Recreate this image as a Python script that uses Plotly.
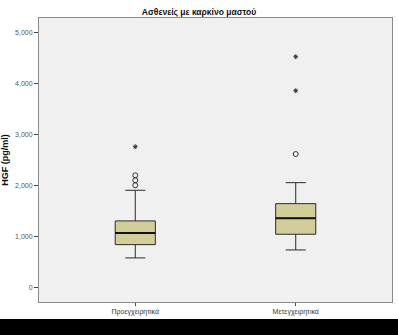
import plotly.graph_objects as go

# HGF levels (pg/ml) before and after surgery
groups = ["Προεγχειρητικά", "Μετεγχειρητικά"]
q1 = [848, 1051]
median = [1078, 1364]
q3 = [1312, 1650]
lower_whisker = [588, 744]
upper_whisker = [1912, 2061]
# mild outliers (circles) and extreme outliers (stars)
outliers_mild = [[2010, 2108, 2205], [2622]]
outliers_extreme = [[2765], [3861, 4526]]

yticks = [0, 1000, 2000, 3000, 4000, 5000]

box_fill = "#d3cd9a"
line_col = "#2b2b2b"
box_w = 0.25

fig = go.Figure()
for i, g in enumerate(groups):
    fig.add_trace(go.Box(
        x=[i], q1=[q1[i]], median=[median[i]], q3=[q3[i]],
        lowerfence=[lower_whisker[i]], upperfence=[upper_whisker[i]],
        width=box_w, whiskerwidth=0.5,
        fillcolor=box_fill, line=dict(color=line_col, width=1),
        name=g, showlegend=False, hoverinfo="skip",
    ))
    # thicker median bar
    fig.add_trace(go.Scatter(
        x=[i - box_w / 2, i + box_w / 2], y=[median[i], median[i]],
        mode="lines", line=dict(color="#111111", width=2),
        showlegend=False, hoverinfo="skip",
    ))
    fig.add_trace(go.Scatter(
        x=[i] * len(outliers_mild[i]), y=outliers_mild[i], mode="markers",
        marker=dict(symbol="circle-open", size=5, color="#333333",
                    line=dict(width=1)),
        showlegend=False,
    ))
    fig.add_trace(go.Scatter(
        x=[i] * len(outliers_extreme[i]), y=outliers_extreme[i], mode="markers",
        marker=dict(symbol="asterisk-open", size=4, color="#333333",
                    line=dict(width=1, color="#333333")),
        showlegend=False,
    ))

# dark strip along the bottom edge
fig.add_shape(type="rect", xref="paper", yref="paper",
              x0=-0.2, x1=1.1, y0=-0.0599, y1=-0.2,
              fillcolor="black", line=dict(width=0), layer="above")

fig.update_layout(
    width=398, height=335,
    margin=dict(l=38, r=5, t=18, b=33),
    paper_bgcolor="white", plot_bgcolor="#f0f0f0",
    font=dict(family="Liberation Sans, Arial, sans-serif", color="#222222"),
    title=dict(text="<b>Ασθενείς με καρκίνο μαστού</b>",
               x=0.5, xref="container", xanchor="center",
               y=1 - 12 / 335, yanchor="middle",
               font=dict(size=8.5, color="#111111")),
    showlegend=False,
)
fig.update_xaxes(
    range=[-0.6, 1.6], tickvals=[0, 1], ticktext=groups,
    showgrid=False, zeroline=False,
    showline=True, mirror=True, linecolor="#8a8a8a", linewidth=1,
    ticks="outside", ticklen=3, tickcolor="#444444",
    tickfont=dict(size=7, color="#333333"),
)
fig.update_yaxes(
    range=[-275, 5284], tickvals=yticks, tickformat=",",
    showgrid=False, zeroline=False,
    showline=True, mirror=True, linecolor="#8a8a8a", linewidth=1,
    ticks="outside", ticklen=4, tickcolor="#444444",
    tickfont=dict(size=7, color="#555555"),
    title=dict(text="<b>HGF (pg/ml)</b>", font=dict(size=9, color="#111111"),
               standoff=4),
)

fig.write_html("out.html")
